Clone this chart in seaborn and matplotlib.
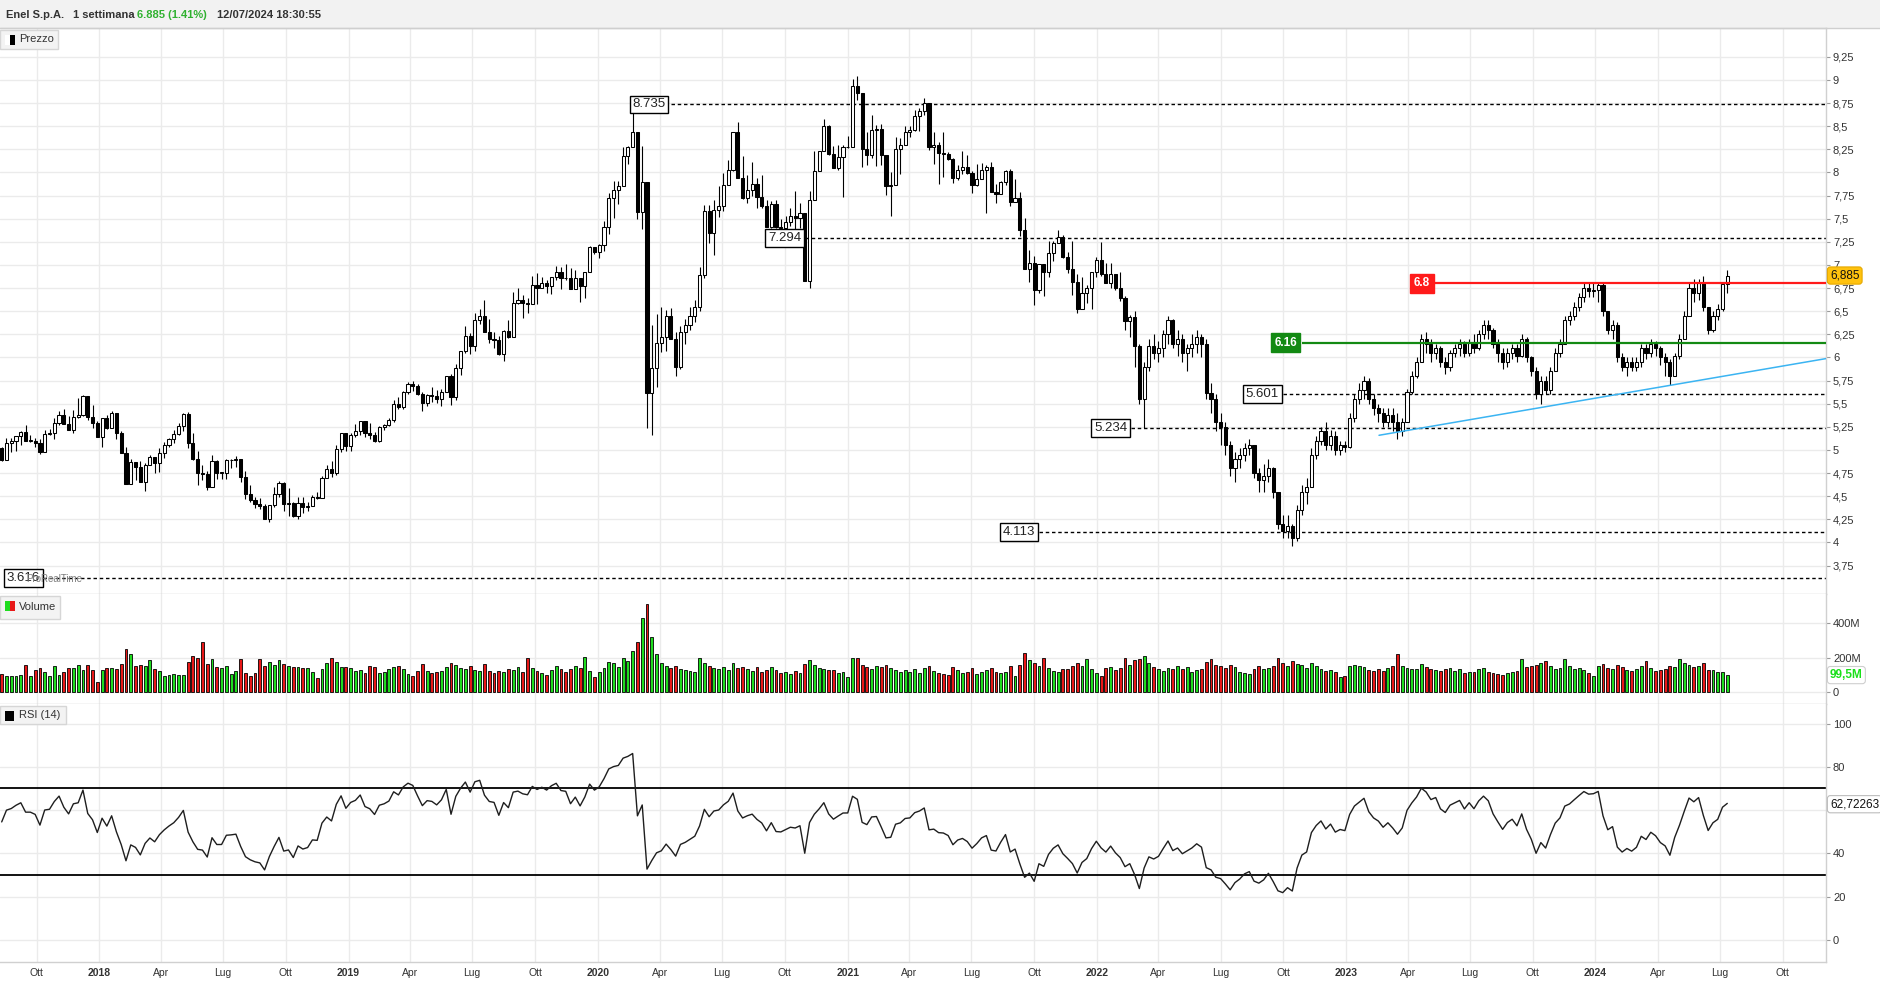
import numpy as np
import pandas as pd
import matplotlib
matplotlib.use("Agg")
import matplotlib.pyplot as plt
import matplotlib.transforms as mtransforms
from matplotlib.patches import Rectangle
from matplotlib import font_manager
import seaborn as sns

sns.set_theme(style="white")
plt.rcParams['font.family'] = ['Liberation Sans', 'DejaVu Sans']

# ---------------- data (weekly bars, Enel S.p.A.) ----------------
first_date = "2017-08-11"
first_open = 5.02

close = [
    4.89, 5.07, 5.097, 5.15, 5.19, 5.10, 5.10, 5.08, 4.98, 5.17,
    5.18, 5.29, 5.375, 5.28, 5.22, 5.36, 5.375, 5.584, 5.36, 5.29,
    5.136, 5.34, 5.24, 5.40, 5.18, 4.97, 4.63, 4.873, 4.82, 4.656,
    4.837, 4.927, 4.855, 4.97, 5.05, 5.115, 5.17, 5.26, 5.385, 5.07,
    4.898, 4.75, 4.735, 4.595, 4.88, 4.75, 4.75, 4.89, 4.896, 4.906,
    4.71, 4.52, 4.457, 4.417, 4.396, 4.256, 4.40, 4.52, 4.637, 4.41,
    4.424, 4.288, 4.43, 4.378, 4.396, 4.486, 4.48, 4.70, 4.79, 4.745,
    5.015, 5.187, 5.043, 5.158, 5.20, 5.31, 5.183, 5.158, 5.094, 5.248,
    5.273, 5.32, 5.493, 5.464, 5.626, 5.709, 5.69, 5.60, 5.51, 5.59,
    5.583, 5.554, 5.626, 5.795, 5.567, 5.883, 6.07, 6.232, 6.124, 6.405,
    6.448, 6.279, 6.203, 6.192, 6.034, 6.286, 6.221, 6.59, 6.617, 6.585,
    6.574, 6.779, 6.746, 6.80, 6.772, 6.869, 6.926, 6.861, 6.854, 6.743,
    6.854, 6.772, 6.923, 7.196, 7.138, 7.21, 7.412, 7.725, 7.815, 7.858,
    8.182, 8.275, 8.437, 7.574, 7.894, 5.61, 5.89, 6.153, 6.221, 6.448,
    6.203, 5.897, 6.28, 6.35, 6.45, 6.55, 6.896, 7.579, 7.345, 7.597,
    7.64, 7.867, 8.029, 8.432, 7.939, 7.723, 7.813, 7.874, 7.73, 7.633,
    7.41, 7.662, 7.41, 7.399, 7.464, 7.525, 7.507, 7.561, 6.83, 7.705,
    8.018, 8.234, 8.504, 8.198, 8.047, 8.162, 8.27, 8.273, 8.935, 8.863,
    8.252, 8.183, 8.453, 8.468, 8.183, 7.849, 7.867, 8.255, 8.299, 8.435,
    8.453, 8.61, 8.66, 8.75, 8.273, 8.291, 8.209, 8.201, 8.147, 7.942,
    8.029, 8.058, 7.996, 7.86, 7.932, 8.022, 8.058, 7.788, 7.77, 7.896,
    8.011, 7.68, 7.723, 7.381, 6.96, 7.022, 6.727, 7.007, 6.924, 7.129,
    7.241, 7.302, 7.086, 6.96, 6.817, 6.522, 6.691, 6.755, 6.924, 7.058,
    6.906, 6.806, 6.906, 6.752, 6.637, 6.396, 6.439, 6.12, 5.55, 5.90,
    6.12, 6.05, 6.10, 6.25, 6.40, 6.15, 6.20, 6.05, 6.10, 6.15,
    6.22, 6.15, 5.62, 5.55, 5.30, 5.25, 5.05, 4.80, 4.90, 4.95,
    5.02, 5.05, 4.75, 4.68, 4.72, 4.80, 4.55, 4.20, 4.12, 4.18,
    4.05, 4.35, 4.55, 4.60, 4.95, 5.10, 5.20, 5.05, 5.15, 5.00,
    5.05, 5.03, 5.35, 5.55, 5.65, 5.75, 5.55, 5.45, 5.40, 5.30,
    5.38, 5.30, 5.20, 5.30, 5.63, 5.80, 5.95, 6.20, 6.15, 6.05,
    6.10, 5.95, 5.90, 6.05, 6.10, 6.15, 6.05, 6.17, 6.10, 6.25,
    6.35, 6.30, 6.15, 6.05, 5.95, 6.05, 6.10, 6.02, 6.20, 6.00,
    5.85, 5.60, 5.75, 5.65, 5.85, 6.05, 6.15, 6.40, 6.45, 6.55,
    6.65, 6.75, 6.72, 6.73, 6.78, 6.50, 6.30, 6.35, 6.00, 5.90,
    5.95, 5.90, 5.95, 6.10, 6.05, 6.15, 6.10, 6.00, 5.95, 5.80,
    6.02, 6.20, 6.45, 6.75, 6.70, 6.80, 6.55, 6.30, 6.45, 6.52,
    6.79, 6.885,
]

high = [
    5.035, 5.125, 5.125, 5.155, 5.205, 5.27, 5.16, 5.125, 5.12, 5.215,
    5.23, 5.34, 5.42, 5.44, 5.37, 5.43, 5.56, 5.595, 5.584, 5.49,
    5.31, 5.34, 5.38, 5.42, 5.40, 5.20, 5.03, 4.90, 4.873, 4.88,
    4.855, 4.945, 4.927, 5.02, 5.09, 5.125, 5.22, 5.29, 5.396, 5.414,
    5.18, 4.99, 4.84, 4.77, 4.945, 4.89, 4.765, 4.90, 4.90, 4.93,
    4.80, 4.77, 4.62, 4.49, 4.485, 4.42, 4.40, 4.60, 4.665, 4.65,
    4.583, 4.44, 4.486, 4.486, 4.44, 4.51, 4.54, 4.715, 4.835, 4.88,
    5.05, 5.187, 5.16, 5.184, 5.284, 5.317, 5.31, 5.29, 5.194, 5.255,
    5.284, 5.345, 5.536, 5.57, 5.637, 5.734, 5.74, 5.71, 5.626, 5.60,
    5.68, 5.644, 5.66, 5.795, 5.82, 5.933, 6.07, 6.34, 6.268, 6.477,
    6.527, 6.62, 6.41, 6.27, 6.23, 6.293, 6.40, 6.707, 6.75, 6.675,
    6.646, 6.88, 6.91, 6.87, 6.84, 6.869, 6.987, 6.977, 7.005, 6.962,
    6.94, 6.861, 6.926, 7.203, 7.196, 7.228, 7.473, 7.78, 7.905, 7.905,
    8.27, 8.282, 8.735, 8.437, 8.282, 7.894, 6.347, 6.47, 6.545, 6.509,
    6.538, 6.279, 6.34, 6.42, 6.55, 6.62, 6.975, 7.651, 7.651, 7.698,
    7.849, 7.993, 8.137, 8.442, 8.54, 8.18, 7.975, 8.108, 7.939, 7.975,
    7.698, 7.687, 7.698, 7.50, 7.525, 7.615, 7.795, 7.669, 7.561, 7.802,
    8.234, 8.234, 8.576, 8.514, 8.288, 8.299, 8.299, 8.396, 9.007, 9.043,
    8.863, 8.442, 8.622, 8.514, 8.525, 8.183, 8.00, 8.381, 8.37, 8.507,
    8.507, 8.67, 8.70, 8.80, 8.75, 8.435, 8.327, 8.435, 8.219, 8.155,
    8.076, 8.23, 8.183, 8.02, 8.094, 8.10, 8.076, 8.112, 7.87, 7.903,
    8.022, 8.04, 7.932, 7.788, 7.511, 7.165, 7.094, 7.007, 7.007, 7.255,
    7.259, 7.374, 7.32, 7.14, 7.255, 6.906, 6.87, 6.78, 6.924, 7.086,
    7.248, 7.022, 7.022, 6.906, 6.924, 6.662, 6.457, 6.50, 6.15, 5.95,
    6.20, 6.25, 6.18, 6.30, 6.45, 6.42, 6.30, 6.25, 6.15, 6.25,
    6.30, 6.25, 6.20, 5.72, 5.60, 5.40, 5.30, 5.10, 4.98, 5.02,
    5.08, 5.12, 5.05, 4.80, 4.85, 4.90, 4.82, 4.55, 4.30, 4.30,
    4.20, 4.40, 4.62, 4.70, 5.02, 5.15, 5.25, 5.30, 5.22, 5.20,
    5.10, 5.10, 5.40, 5.60, 5.72, 5.80, 5.78, 5.60, 5.50, 5.45,
    5.45, 5.45, 5.40, 5.35, 5.66, 5.85, 6.00, 6.25, 6.28, 6.20,
    6.15, 6.12, 6.00, 6.08, 6.15, 6.20, 6.18, 6.20, 6.25, 6.30,
    6.40, 6.40, 6.32, 6.20, 6.10, 6.10, 6.15, 6.15, 6.25, 6.22,
    6.02, 5.90, 5.80, 5.80, 5.90, 6.10, 6.20, 6.45, 6.50, 6.60,
    6.70, 6.82, 6.80, 6.80, 6.82, 6.80, 6.50, 6.40, 6.38, 6.05,
    6.00, 6.00, 6.00, 6.15, 6.15, 6.20, 6.18, 6.12, 6.05, 5.98,
    6.05, 6.25, 6.50, 6.82, 6.85, 6.85, 6.88, 6.55, 6.50, 6.58,
    6.82, 6.95,
]

low = [
    4.88, 4.90, 4.98, 4.99, 5.05, 5.10, 5.09, 5.035, 4.96, 4.98,
    5.16, 5.115, 5.27, 5.28, 5.22, 5.18, 5.34, 5.37, 5.32, 5.24,
    5.136, 5.035, 5.23, 5.24, 5.115, 4.97, 4.63, 4.63, 4.67, 4.65,
    4.56, 4.84, 4.75, 4.765, 4.91, 5.035, 5.07, 5.16, 5.205, 5.024,
    4.89, 4.62, 4.67, 4.566, 4.595, 4.69, 4.69, 4.685, 4.806, 4.82,
    4.655, 4.47, 4.44, 4.374, 4.363, 4.256, 4.223, 4.38, 4.49, 4.342,
    4.29, 4.277, 4.252, 4.32, 4.338, 4.40, 4.47, 4.48, 4.70, 4.71,
    4.727, 4.98, 4.99, 4.99, 5.14, 5.165, 5.14, 5.12, 5.086, 5.086,
    5.21, 5.26, 5.30, 5.44, 5.446, 5.608, 5.637, 5.597, 5.42, 5.475,
    5.518, 5.51, 5.48, 5.626, 5.487, 5.54, 5.81, 6.05, 6.034, 6.07,
    6.365, 6.279, 6.16, 6.106, 6.023, 5.962, 6.214, 6.221, 6.574, 6.423,
    6.484, 6.574, 6.58, 6.746, 6.70, 6.689, 6.84, 6.736, 6.833, 6.736,
    6.743, 6.603, 6.646, 6.923, 7.12, 7.077, 7.15, 7.33, 7.51, 7.66,
    7.858, 8.095, 8.275, 7.50, 7.39, 5.232, 5.16, 5.68, 6.063, 6.07,
    6.203, 5.80, 5.88, 6.15, 6.30, 6.38, 6.50, 6.86, 7.237, 7.112,
    7.518, 7.579, 7.957, 8.02, 7.939, 7.716, 7.669, 7.741, 7.615, 7.615,
    7.41, 7.40, 7.40, 7.363, 7.345, 7.417, 7.38, 7.40, 6.83, 6.745,
    7.705, 8.018, 8.234, 8.191, 8.047, 8.029, 7.734, 8.263, 8.273, 8.784,
    8.054, 8.083, 8.155, 8.065, 8.083, 7.752, 7.532, 7.867, 7.982, 8.30,
    8.38, 8.45, 8.45, 8.62, 8.245, 8.094, 7.878, 7.95, 8.13, 7.888,
    7.914, 7.986, 7.986, 7.777, 7.849, 7.932, 7.561, 7.788, 7.669, 7.77,
    7.86, 7.633, 7.68, 7.309, 6.96, 6.817, 6.565, 6.698, 6.662, 6.87,
    7.043, 7.241, 7.079, 6.914, 6.68, 6.482, 6.522, 6.59, 6.522, 6.87,
    6.881, 6.806, 6.745, 6.727, 6.612, 6.295, 6.223, 5.90, 5.50, 5.234,
    5.85, 5.98, 5.95, 6.00, 6.15, 6.10, 6.02, 5.95, 5.85, 6.00,
    6.05, 6.00, 5.55, 5.40, 5.20, 5.05, 4.95, 4.72, 4.65, 4.80,
    4.88, 4.95, 4.70, 4.55, 4.55, 4.65, 4.48, 4.15, 4.05, 4.05,
    3.96, 4.02, 4.30, 4.42, 4.60, 4.90, 5.05, 5.00, 5.00, 4.95,
    4.95, 4.98, 5.02, 5.30, 5.50, 5.55, 5.50, 5.38, 5.30, 5.25,
    5.25, 5.20, 5.12, 5.15, 5.30, 5.60, 5.78, 5.95, 6.05, 5.95,
    5.98, 5.90, 5.82, 5.85, 6.00, 6.02, 6.00, 6.02, 6.05, 6.08,
    6.20, 6.20, 6.10, 5.95, 5.88, 5.90, 5.98, 5.95, 6.00, 5.95,
    5.80, 5.55, 5.50, 5.60, 5.60, 5.85, 6.00, 6.15, 6.35, 6.40,
    6.50, 6.60, 6.65, 6.65, 6.60, 6.45, 6.25, 6.20, 5.95, 5.85,
    5.80, 5.85, 5.85, 5.90, 5.98, 6.00, 6.02, 5.92, 5.80, 5.70,
    5.80, 5.98, 6.20, 6.45, 6.60, 6.62, 6.50, 6.25, 6.28, 6.40,
    6.50, 6.70,
]

volume_m = [
    108, 96, 96, 96, 102, 160, 92, 131, 143, 116, 96, 154, 102, 116, 139, 143, 158, 131, 158, 131,
    62, 131, 143, 143, 137, 166, 252, 222, 154, 160, 154, 189, 137, 125, 96, 102, 108, 102, 102, 177,
    212, 198, 293, 164, 193, 146, 141, 154, 108, 121, 193, 112, 92, 112, 195, 154, 175, 160, 189, 164,
    150, 148, 146, 141, 141, 120, 80, 137, 171, 198, 173, 148, 146, 141, 124, 131, 110, 150, 144, 112,
    118, 133, 148, 154, 137, 108, 96, 121, 165, 124, 112, 116, 123, 144, 171, 160, 141, 137, 150, 130,
    126, 164, 121, 112, 124, 118, 137, 131, 146, 120, 196, 140, 124, 110, 102, 129, 150, 132, 117, 136,
    150, 141, 206, 126, 88, 117, 140, 176, 171, 148, 200, 182, 240, 290, 430, 510, 320, 220, 170, 150,
    141, 150, 135, 131, 126, 120, 200, 169, 154, 140, 132, 146, 128, 171, 140, 146, 133, 125, 148, 118,
    131, 146, 129, 112, 116, 104, 121, 112, 165, 188, 155, 141, 137, 131, 129, 112, 120, 86, 196, 200,
    160, 146, 137, 152, 148, 160, 141, 130, 120, 127, 118, 134, 112, 140, 154, 121, 112, 108, 101, 146,
    128, 113, 119, 140, 106, 120, 131, 141, 116, 110, 118, 152, 96, 160, 230, 184, 170, 150, 200, 142,
    126, 120, 137, 133, 150, 171, 154, 190, 135, 112, 92, 140, 146, 130, 140, 200, 160, 185, 190, 210,
    170, 148, 133, 126, 142, 135, 150, 137, 148, 120, 131, 133, 178, 190, 160, 150, 141, 160, 148, 120,
    112, 106, 137, 152, 133, 141, 150, 200, 171, 150, 180, 165, 158, 141, 168, 150, 133, 126, 131, 118,
    88, 96, 150, 160, 154, 146, 131, 121, 133, 126, 140, 154, 220, 150, 141, 137, 133, 165, 146, 137,
    128, 121, 135, 140, 124, 137, 110, 118, 120, 133, 141, 118, 112, 106, 101, 109, 120, 126, 190, 146,
    150, 160, 171, 180, 150, 137, 143, 190, 150, 133, 141, 128, 110, 95, 150, 162, 141, 133, 160, 146,
    131, 124, 137, 150, 180, 141, 126, 131, 137, 150, 144, 190, 170, 158, 146, 150, 171, 131, 128, 120,
    118, 99.5,
]

# RSI(14) state before the first visible bar (read from the first RSI value ~60)
rsi_seed_gain = 0.060
rsi_seed_loss = 0.040
rsi_last_label = 62.72263

levels_dashed = [8.735, 7.294, 5.234, 5.601, 4.113, 3.616]
level_red = 6.8
level_green = 6.16
trend_start = (5.158, 5.987)   # price at trendline start / at right edge

tick_months = {1: None, 4: "Apr", 7: "Lug", 10: "Ott"}

# ---------------- geometry ----------------
W, H = 1880, 982
PX_PER_BAR = 4.78
X0_PX = 1.7
AX_RIGHT = 1826


def px2i(px):
    return (px - X0_PX) / PX_PER_BAR


n = min(len(close), len(high), len(low), len(volume_m))
close = np.array(close[:n], float)
high = np.array(high[:n], float)
low = np.array(low[:n], float)
vol = np.array(volume_m[:n], float)
idx = np.arange(n)
opens = np.r_[first_open, close[:-1]]
high = np.maximum(high, np.maximum(opens, close))
low = np.minimum(low, np.minimum(opens, close))
up = close >= opens

# RSI (Wilder smoothing)
chg = close - opens
ag, al = rsi_seed_gain, rsi_seed_loss
rsi = []
for c in chg:
    ag = (ag * 13 + max(c, 0)) / 14
    al = (al * 13 + max(-c, 0)) / 14
    rsi.append(100 * ag / (ag + al))
rsi = np.array(rsi)

fig = plt.figure(figsize=(W / 100, H / 100), dpi=100)
fig.patch.set_facecolor("white")


def axes_px(left, top, right, bottom):
    return fig.add_axes([left / W, 1 - bottom / H, (right - left) / W, (bottom - top) / H])


ax_p = axes_px(0, 28, AX_RIGHT, 594)
ax_v = axes_px(0, 594, AX_RIGHT, 704)
ax_r = axes_px(0, 704, AX_RIGHT, 962)

XMIN, XMAX = px2i(0), px2i(AX_RIGHT)
y2p = lambda y: (912.4 - y) / 92.5

ax_p.set_ylim(y2p(594), y2p(28))
ax_v.set_ylim(-(704 - 692.3) / 34.6 * 200, (692.3 - 594) / 34.6 * 200)
ax_r.set_ylim(-(962 - 940) / 2.165, (940 - 704) / 2.165)

# month ticks
fd = pd.Timestamp(first_date)
tdates = pd.date_range("2017-10-01", "2024-10-01", freq="3MS")
tpos = [(d - fd).days / 7.0 for d in tdates]
tlabels = [str(d.year) if d.month == 1 else tick_months[d.month] for d in tdates]

GRID = "#ebebeb"
for ax in (ax_p, ax_v, ax_r):
    ax.set_xlim(XMIN, XMAX)
    ax.set_facecolor("white")
    for x in tpos:
        ax.axvline(x, color=GRID, lw=1, zorder=0)
    ax.yaxis.tick_right()
    ax.tick_params(axis="y", direction="out", length=3, width=0.8, color="#9a9a9a",
                   labelsize=8, labelcolor="#333333", pad=2)
    ax.tick_params(axis="x", length=0)
    ax.set_xticks(tpos)
    ax.grid(False)
    ax.spines["left"].set_visible(False)
    for s in ("top", "bottom", "right"):
        ax.spines[s].set_color("#d0d0d0")
        ax.spines[s].set_linewidth(1)
ax_v.spines["top"].set_visible(False)
ax_r.spines["top"].set_visible(False)

ax_p.set_xticklabels([])
ax_v.set_xticklabels([])


def fmt(v):
    s = f"{v:.2f}".rstrip("0").rstrip(".")
    return s.replace(".", ",")


pt = np.arange(3.75, 9.26, 0.25)
ax_p.set_yticks(pt)
ax_p.set_yticklabels([fmt(v) for v in pt])
for v in pt:
    ax_p.axhline(v, color=GRID, lw=1, zorder=0)

ax_v.set_yticks([0, 200, 400])
ax_v.set_yticklabels(["0", "200M", "400M"])
for v in [0, 200, 400]:
    ax_v.axhline(v, color=GRID, lw=1, zorder=0)

ax_r.set_yticks([0, 20, 40, 80, 100])
ax_r.set_yticklabels(["0", "20", "40", "80", "100"])
for v in [0, 20, 40, 60, 80, 100]:
    ax_r.axhline(v, color=GRID, lw=1, zorder=0)

# x labels
names = {f.name for f in font_manager.fontManager.ttflist}
xfam = ["Liberation Sans Narrow"] if "Liberation Sans Narrow" in names else ["Liberation Sans"]
xsize = 8.5 if "Liberation Sans Narrow" in names else 7.5
ax_r.set_xticklabels(tlabels)
for lab in ax_r.get_xticklabels():
    lab.set_fontfamily(xfam)
    lab.set_fontsize(xsize)
    lab.set_color("#333333")
    if lab.get_text().isdigit():
        lab.set_fontweight("bold")
ax_r.tick_params(axis="x", pad=4)

# ---------------- candles ----------------
bw = 0.66
body_bot = np.minimum(opens, close)
body_h = np.maximum(np.abs(close - opens), 0.006)
ax_p.vlines(idx, low, high, color="black", lw=0.8, zorder=3)
ax_p.bar(idx, body_h, bottom=body_bot, width=bw,
         color=np.where(up, "white", "black"), edgecolor="black", linewidth=0.75, zorder=4)

# levels
dash = (0, (2.5, 2.0))
box_px = {8.735: (627, 671), 7.294: (764, 805), 5.234: (1090, 1131),
          5.601: (1242, 1283), 4.113: (999, 1039), 3.616: (4, 43)}
for lv in levels_dashed:
    l, r = box_px[lv]
    ax_p.hlines(lv, px2i(r), XMAX, colors="black", linestyles=dash, lw=1.0, zorder=2)
    ax_p.text(px2i((l + r) / 2), lv, f"{lv:.3f}", ha="center", va="center",
              fontsize=9.5, color="#222222", zorder=6,
              bbox=dict(boxstyle="square,pad=0.22", fc="white", ec="black", lw=1))

# platform watermark, drawn over the lowest level tag as in the original
ax_p.text(px2i(26), y2p(579), "ProRealTime", ha="left", va="center", fontsize=7,
          color="#7d7d7d", zorder=7)

# red resistance
ax_p.hlines(level_red, px2i(1435), XMAX, colors="#ff1a1a", lw=1.6, zorder=5)
ax_p.text(px2i(1422), level_red, "6.8", ha="center", va="center", fontsize=8.5,
          fontweight="bold", color="white", zorder=6,
          bbox=dict(boxstyle="square,pad=0.3", fc="#ff1a1a", ec="#ff1a1a", lw=1))
# green support
ax_p.hlines(level_green, px2i(1302), XMAX, colors="#138a13", lw=1.6, zorder=5)
ax_p.text(px2i(1285.5), level_green, "6.16", ha="center", va="center", fontsize=8.5,
          fontweight="bold", color="white", zorder=6,
          bbox=dict(boxstyle="square,pad=0.3", fc="#138a13", ec="#138a13", lw=1))
# trendline
ax_p.plot([px2i(1379), XMAX], list(trend_start), color="#3bb4f2", lw=1.1, zorder=5)

# ---------------- volume ----------------
ax_v.bar(idx, vol, width=0.6, color=np.where(up, "#1fdc1f", "#e81818"),
         edgecolor="black", linewidth=0.6, zorder=3)

# ---------------- RSI ----------------
sns.lineplot(x=idx, y=rsi, ax=ax_r, color="#1e1e1e", linewidth=1.0, zorder=3)
ax_r.axhline(70, color="black", lw=1.3, zorder=2)
ax_r.axhline(30, color="black", lw=1.3, zorder=2)
ax_r.set_xlabel("")
ax_r.set_ylabel("")
if ax_r.get_legend():
    ax_r.get_legend().remove()


# ---------------- right value tags ----------------
def tag(ax, y, text, fc, ec, color, weight="normal"):
    tr = mtransforms.blended_transform_factory(ax.transAxes, ax.transData)
    ax.text(1.0 + 4 / AX_RIGHT, y, text, transform=tr, ha="left", va="center",
            fontsize=8.5, color=color, fontweight=weight, zorder=10, clip_on=False,
            bbox=dict(boxstyle="round,pad=0.22,rounding_size=0.25", fc=fc, ec=ec, lw=0.8))


tag(ax_p, close[-1], f"{close[-1]:.3f}".replace(".", ","), "#ffc20e", "#e5a800", "#111111")
tag(ax_v, vol[-1], f"{vol[-1]:.1f}M".replace(".", ","), "white", "#cfcfcf", "#19e019", "bold")
tag(ax_r, rsi_last_label, f"{rsi_last_label:.5f}".replace(".", ","), "white", "#bdbdbd", "#111111")

# ---------------- header & panel labels ----------------
fig.add_artist(Rectangle((0, 1 - 28 / H), 1, 28 / H, transform=fig.transFigure,
                         fc="#f2f2f2", ec="none", zorder=0))
fig.add_artist(plt.Line2D([0, 1], [1 - 28 / H, 1 - 28 / H], transform=fig.transFigure,
                          color="#cfcfcf", lw=1))
hy = 1 - 14.5 / H
fig.text(6 / W, hy, "Enel S.p.A.", fontsize=8, fontweight="bold", color="#333333", va="center")
fig.text(73 / W, hy, "1 settimana", fontsize=8, fontweight="bold", color="#333333", va="center")
fig.text(137 / W, hy, "6.885 (1.41%)", fontsize=8, fontweight="bold", color="#2fb12f", va="center")
fig.text(217 / W, hy, "12/07/2024 18:30:55", fontsize=8, fontweight="bold", color="#333333",
         va="center")


def panel_label(x0, y0, x1, y1, text, icons):
    fig.add_artist(Rectangle((x0 / W, 1 - y1 / H), (x1 - x0) / W, (y1 - y0) / H,
                             transform=fig.transFigure, fc="#f3f3f3", ec="#d6d6d6", lw=1, zorder=8))
    for (ix0, ix1, col) in icons:
        fig.add_artist(Rectangle((ix0 / W, 1 - (y0 + 15) / H), (ix1 - ix0) / W, 10 / H,
                                 transform=fig.transFigure, fc=col, ec="none", zorder=9))
    fig.text(19 / W, 1 - (y0 + y1) / 2 / H, text, fontsize=8, color="#333333",
             va="center", ha="left", zorder=10)


panel_label(0, 30, 58, 49, "Prezzo", [(5, 10, "white"), (10, 15, "black")])
panel_label(0, 596, 60, 619, "Volume", [(5, 10, "#1fdc1f"), (10, 15, "#e81818")])
panel_label(0, 706, 66, 724, "RSI (14)", [(5, 14, "black")])

fig.savefig("out.png", dpi=100, facecolor="white")
